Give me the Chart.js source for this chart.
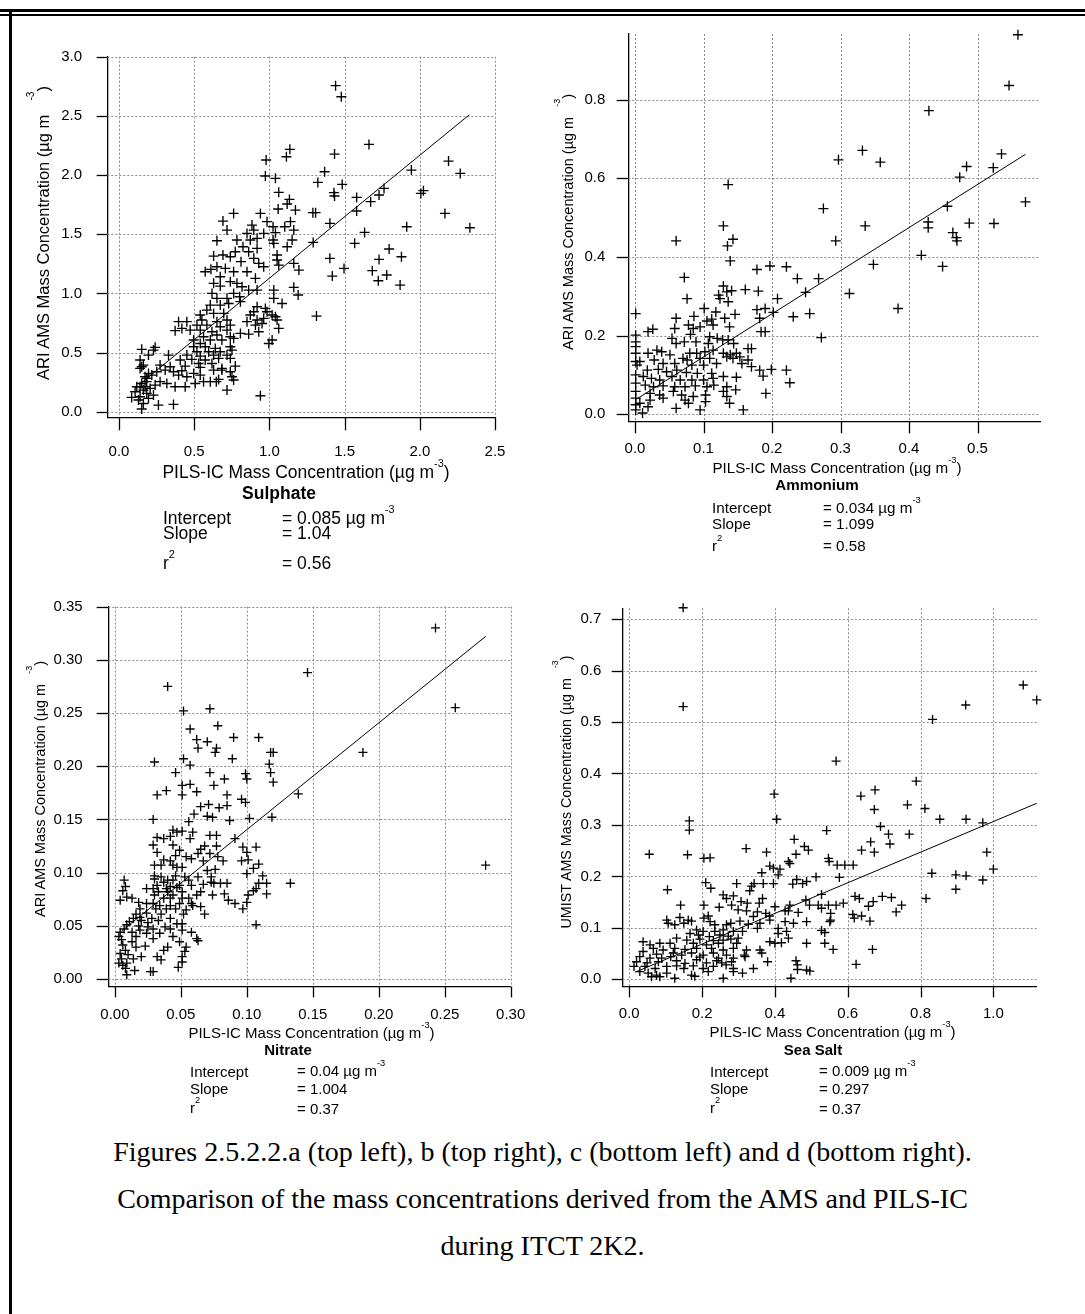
<!DOCTYPE html>
<html>
<head>
<meta charset="utf-8">
<title>AMS vs PILS-IC mass concentrations, ITCT 2K2</title>
<script src="https://cdn.jsdelivr.net/npm/chart.js@4.4.1/dist/chart.umd.min.js"></script>
<style>
  html, body { margin: 0; padding: 0; background: #fff; }
  #page { position: relative; width: 1085px; height: 1314px; overflow: hidden; background: #fff;
          font-family: "Liberation Sans", Arial, sans-serif; color: #000; }
  #page canvas { position: absolute; }
  .t { position: absolute; white-space: nowrap; line-height: 1; z-index: 2; }
  .c { transform: translate(-50%, -50%); }
  .l { transform: translateY(-50%); }
  .yt { transform: translate(-50%, -50%) rotate(-90deg); }
  .b { font-weight: bold; }
  .sup { font-size: 0.62em; position: relative; top: -1.05em; }
  .yt .sup { top: -1.5em; }
  .gap { display: inline-block; }
  .rule { position: absolute; background: #000; }
  .cap { position: absolute; left: 0; width: 1085px; text-align: center; line-height: 1;
         font-family: "Liberation Serif", "Times New Roman", serif; font-size: 28px; transform: translateY(-50%); }
</style>
</head>
<body>
<div id="page">
  <div class="rule" style="left:0;top:9px;width:1085px;height:3px"></div>
  <div class="rule" style="left:0;top:14px;width:1085px;height:2px"></div>
  <div class="rule" style="left:9px;top:12px;width:3px;height:1302px"></div>
  <div class="cap" style="top:1152px">Figures 2.5.2.2.a (top left), b (top right), c (bottom left) and d (bottom right).</div>
  <div class="cap" style="top:1199px">Comparison of the mass concentrations derived from the AMS and PILS-IC</div>
  <div class="cap" style="top:1246px">during ITCT 2K2.</div>
</div>

<script>
// PILS-IC (x) vs AMS (y), ug m-3
const sulphatePts = [
  [1.44,2.755],[1.478,2.662],[1.662,2.259],[1.433,2.177],[1.136,2.217],[1.113,2.155],[0.978,2.127],[0.973,1.992],[1.04,1.972],
  [1.367,2.028],[1.322,1.938],[1.484,1.921],[1.429,1.851],[1.433,1.823],[1.58,1.811],[1.673,1.775],[1.729,1.831],[1.762,1.887],
  [1.944,2.042],[2.191,2.118],[2.269,2.014],[2.007,1.845],[2.024,1.868],[2.167,1.676],[2.333,1.555],[1.913,1.563],[1.58,1.696],
  [1.633,1.515],[1.567,1.423],[1.402,1.592],[1.289,1.682],[1.307,1.682],[1.291,1.431],[1.402,1.296],[1.796,1.375],[1.729,1.287],
  [1.878,1.31],[1.684,1.192],[1.496,1.211],[1.418,1.146],[1.78,1.155],[1.724,1.107],[1.869,1.07],[1.313,0.808],[0.94,0.135],
  [1.062,1.854],[1.133,1.794],[1.118,1.755],[1.058,1.713],[1.173,1.704],[0.94,1.676],[0.762,1.676],[0.691,1.611],[0.718,1.535],
  [0.651,1.445],[0.784,1.451],[0.884,1.577],[0.896,1.535],[0.851,1.507],[0.984,1.606],[1.024,1.563],[0.962,1.507],[1.04,1.513],
  [1.102,1.563],[1.162,1.535],[1.14,1.606],[0.918,1.465],[1.024,1.451],[0.873,1.451],[0.824,1.394],[0.773,1.352],[0.862,1.352],
  [0.918,1.38],[1.051,1.324],[1.118,1.394],[1.151,1.451],[1.029,1.423],[0.691,1.324],[0.629,1.315],[0.74,1.31],[0.811,1.268],
  [0.896,1.296],[0.929,1.254],[0.962,1.225],[1.062,1.239],[1.051,1.282],[1.162,1.254],[1.196,1.197],[0.573,1.183],[0.611,1.203],
  [0.651,1.225],[0.707,1.211],[0.673,1.141],[0.762,1.183],[0.851,1.183],[0.907,1.127],[0.74,1.099],[0.784,1.085],[0.629,1.085],
  [0.673,1.062],[0.818,1.056],[0.862,1.028],[0.918,1.028],[0.618,1.0],[0.762,1.0],[0.651,0.958],[0.718,0.958],[0.802,0.972],
  [1.029,1.028],[1.162,1.051],[1.191,0.986],[1.029,0.958],[1.084,0.915],[0.607,0.901],[0.673,0.901],[0.729,0.915],[0.807,0.93],
  [0.918,0.887],[0.973,0.873],[0.584,0.859],[0.629,0.831],[0.696,0.831],[0.896,0.845],[0.984,0.845],[1.018,0.817],[0.54,0.817],
  [0.873,0.817],[0.918,0.775],[0.962,0.789],[1.04,0.803],[0.551,0.775],[0.651,0.761],[0.718,0.775],[0.451,0.761],[0.396,0.761],
  [0.851,0.761],[0.951,0.746],[1.051,0.775],[0.518,0.732],[0.584,0.732],[0.673,0.718],[0.74,0.732],[0.907,0.732],[0.418,0.704],
  [0.473,0.69],[0.373,0.685],[0.54,0.69],[0.618,0.676],[0.718,0.69],[0.807,0.662],[0.862,0.656],[0.929,0.676],[1.062,0.704],
  [0.562,0.634],[0.651,0.648],[0.74,0.634],[0.496,0.606],[0.54,0.577],[0.607,0.606],[0.684,0.606],[0.762,0.62],[1.018,0.606],
  [0.996,0.577],[0.496,0.549],[0.573,0.549],[0.64,0.535],[0.74,0.549],[0.518,0.507],[0.596,0.507],[0.673,0.507],[0.751,0.521],
  [0.451,0.479],[0.54,0.47],[0.629,0.479],[0.718,0.479],[0.484,0.442],[0.573,0.437],[0.662,0.451],[0.74,0.451],[0.407,0.437],
  [0.529,0.408],[0.618,0.408],[0.773,0.386],[0.684,0.366],[0.54,0.375],[0.44,0.386],[0.34,0.38],[0.273,0.394],[0.329,0.479],
  [0.24,0.544],[0.229,0.521],[0.151,0.527],[0.196,0.479],[0.14,0.437],[0.151,0.38],[0.162,0.394],[0.14,0.366],[0.196,0.324],
  [0.173,0.296],[0.251,0.338],[0.307,0.352],[0.362,0.338],[0.418,0.346],[0.396,0.31],[0.451,0.296],[0.496,0.324],[0.54,0.31],
  [0.629,0.352],[0.684,0.352],[0.74,0.338],[0.751,0.296],[0.762,0.268],[0.662,0.273],[0.562,0.254],[0.507,0.239],[0.607,0.254],
  [0.44,0.211],[0.373,0.211],[0.318,0.239],[0.273,0.254],[0.24,0.225],[0.184,0.254],[0.151,0.239],[0.118,0.211],[0.107,0.169],
  [0.162,0.183],[0.207,0.197],[0.184,0.155],[0.229,0.141],[0.14,0.127],[0.084,0.121],[0.129,0.099],[0.262,0.056],[0.362,0.062],
  [0.151,0.023],[0.718,0.183],[0.647,0.254],[0.218,0.31],[0.184,0.282],[0.14,0.211],[0.173,0.211],[0.196,0.113],[0.162,0.07]
];
const ammoniumPts = [
  [0.559,0.965],[0.546,0.836],[0.429,0.772],[0.332,0.671],[0.297,0.647],[0.358,0.641],[0.535,0.662],[0.523,0.627],[0.484,0.63],
  [0.474,0.603],[0.136,0.584],[0.275,0.523],[0.456,0.529],[0.57,0.54],[0.428,0.489],[0.428,0.474],[0.488,0.486],[0.524,0.485],
  [0.336,0.479],[0.464,0.462],[0.469,0.449],[0.47,0.441],[0.129,0.479],[0.06,0.441],[0.143,0.445],[0.135,0.428],[0.293,0.441],
  [0.139,0.39],[0.418,0.404],[0.449,0.376],[0.348,0.381],[0.178,0.368],[0.197,0.377],[0.221,0.375],[0.072,0.348],[0.237,0.345],
  [0.268,0.345],[0.076,0.294],[0.129,0.326],[0.134,0.311],[0.141,0.314],[0.161,0.317],[0.18,0.313],[0.249,0.31],[0.313,0.307],
  [0.208,0.294],[0.122,0.303],[0.124,0.294],[0.136,0.286],[0.384,0.269],[0.001,0.256],[0.101,0.269],[0.118,0.26],[0.146,0.254],
  [0.178,0.266],[0.19,0.269],[0.202,0.259],[0.255,0.256],[0.231,0.248],[0.06,0.244],[0.086,0.249],[0.105,0.237],[0.112,0.242],
  [0.131,0.244],[0.182,0.244],[0.138,0.222],[0.019,0.21],[0.026,0.216],[0.058,0.218],[0.078,0.227],[0.085,0.218],[0.095,0.222],
  [0.114,0.227],[0.184,0.21],[0.19,0.21],[0.272,0.195],[0.001,0.201],[0.001,0.184],[0.001,0.172],[0.001,0.155],[0.001,0.134],
  [0.003,0.125],[0.001,0.1],[0.001,0.079],[0.001,0.058],[0.001,0.041],[0.001,0.024],[0.001,0.011],[0.011,0.003],[0.007,0.028],
  [0.054,0.193],[0.06,0.18],[0.072,0.184],[0.081,0.203],[0.089,0.184],[0.109,0.197],[0.12,0.193],[0.128,0.189],[0.136,0.189],
  [0.144,0.18],[0.107,0.18],[0.165,0.167],[0.17,0.167],[0.032,0.163],[0.039,0.159],[0.051,0.151],[0.019,0.155],[0.08,0.155],
  [0.09,0.155],[0.102,0.159],[0.114,0.163],[0.129,0.155],[0.139,0.151],[0.148,0.155],[0.07,0.142],[0.076,0.138],[0.095,0.142],
  [0.109,0.142],[0.134,0.146],[0.143,0.142],[0.153,0.146],[0.165,0.138],[0.007,0.134],[0.028,0.138],[0.041,0.129],[0.058,0.129],
  [0.083,0.125],[0.1,0.125],[0.119,0.129],[0.156,0.129],[0.17,0.121],[0.182,0.112],[0.199,0.114],[0.221,0.112],[0.226,0.08],
  [0.187,0.097],[0.148,0.094],[0.129,0.096],[0.112,0.104],[0.091,0.104],[0.075,0.106],[0.061,0.112],[0.046,0.108],[0.034,0.114],
  [0.018,0.112],[0.012,0.096],[0.024,0.091],[0.036,0.087],[0.054,0.096],[0.066,0.087],[0.083,0.087],[0.1,0.087],[0.114,0.091],
  [0.015,0.074],[0.027,0.07],[0.041,0.072],[0.058,0.07],[0.073,0.07],[0.088,0.072],[0.105,0.07],[0.115,0.074],[0.134,0.07],
  [0.022,0.053],[0.036,0.049],[0.056,0.058],[0.068,0.049],[0.085,0.045],[0.103,0.049],[0.134,0.045],[0.147,0.062],[0.191,0.053],
  [0.022,0.036],[0.041,0.041],[0.073,0.036],[0.103,0.032],[0.138,0.028],[0.019,0.019],[0.06,0.015],[0.095,0.011],[0.158,0.011],
  [0.129,0.058],[0.078,0.028]
];
const nitratePts = [
  [0.243,0.33],[0.258,0.255],[0.146,0.288],[0.188,0.213],[0.281,0.107],[0.04,0.275],[0.072,0.254],[0.052,0.252],[0.078,0.238],
  [0.057,0.235],[0.09,0.227],[0.109,0.227],[0.062,0.225],[0.07,0.223],[0.063,0.217],[0.077,0.217],[0.076,0.213],[0.118,0.213],
  [0.12,0.213],[0.03,0.204],[0.052,0.207],[0.089,0.207],[0.057,0.201],[0.117,0.202],[0.046,0.194],[0.072,0.194],[0.099,0.193],
  [0.118,0.194],[0.1,0.188],[0.083,0.188],[0.12,0.185],[0.051,0.182],[0.057,0.183],[0.075,0.182],[0.039,0.177],[0.032,0.173],
  [0.051,0.173],[0.062,0.176],[0.085,0.173],[0.139,0.174],[0.096,0.169],[0.099,0.166],[0.065,0.162],[0.071,0.164],[0.085,0.163],
  [0.079,0.161],[0.06,0.155],[0.07,0.153],[0.074,0.152],[0.087,0.149],[0.102,0.151],[0.119,0.152],[0.029,0.15],[0.056,0.148],
  [0.044,0.14],[0.051,0.139],[0.059,0.138],[0.072,0.135],[0.077,0.135],[0.032,0.133],[0.037,0.132],[0.042,0.134],[0.047,0.138],
  [0.057,0.132],[0.091,0.132],[0.029,0.126],[0.044,0.126],[0.065,0.122],[0.068,0.125],[0.077,0.125],[0.097,0.124],[0.107,0.124],
  [0.032,0.119],[0.049,0.121],[0.046,0.116],[0.054,0.115],[0.063,0.118],[0.072,0.118],[0.078,0.115],[0.1,0.119],[0.037,0.112],
  [0.042,0.111],[0.058,0.113],[0.067,0.111],[0.082,0.111],[0.096,0.111],[0.101,0.112],[0.03,0.107],[0.035,0.107],[0.044,0.107],
  [0.047,0.105],[0.051,0.105],[0.109,0.108],[0.07,0.102],[0.076,0.103],[0.1,0.099],[0.105,0.104],[0.112,0.097],[0.03,0.097],
  [0.035,0.096],[0.046,0.097],[0.053,0.096],[0.063,0.096],[0.073,0.096],[0.007,0.093],[0.03,0.094],[0.04,0.093],[0.044,0.093],
  [0.056,0.093],[0.073,0.091],[0.08,0.09],[0.085,0.09],[0.115,0.09],[0.133,0.09],[0.109,0.09],[0.037,0.091],[0.008,0.087],
  [0.032,0.088],[0.042,0.087],[0.049,0.088],[0.058,0.088],[0.067,0.089],[0.075,0.09],[0.024,0.085],[0.029,0.085],[0.039,0.085],
  [0.047,0.086],[0.107,0.085],[0.105,0.083],[0.006,0.083],[0.033,0.082],[0.04,0.082],[0.051,0.082],[0.065,0.082],[0.083,0.08],
  [0.03,0.079],[0.044,0.079],[0.074,0.079],[0.062,0.079],[0.115,0.08],[0.101,0.079],[0.009,0.077],[0.037,0.076],[0.042,0.076],
  [0.051,0.076],[0.056,0.076],[0.086,0.074],[0.004,0.074],[0.013,0.076],[0.018,0.072],[0.024,0.071],[0.029,0.071],[0.034,0.069],
  [0.042,0.069],[0.049,0.071],[0.058,0.071],[0.1,0.072],[0.091,0.071],[0.019,0.066],[0.031,0.066],[0.039,0.066],[0.046,0.066],
  [0.054,0.065],[0.065,0.068],[0.059,0.069],[0.097,0.066],[0.016,0.061],[0.024,0.062],[0.035,0.061],[0.052,0.061],[0.068,0.061],
  [0.014,0.057],[0.019,0.058],[0.028,0.057],[0.042,0.057],[0.011,0.054],[0.02,0.055],[0.025,0.053],[0.033,0.055],[0.047,0.052],
  [0.107,0.051],[0.009,0.051],[0.018,0.05],[0.025,0.049],[0.038,0.049],[0.051,0.052],[0.007,0.047],[0.019,0.046],[0.029,0.047],
  [0.042,0.047],[0.051,0.046],[0.004,0.044],[0.013,0.044],[0.024,0.043],[0.034,0.043],[0.058,0.044],[0.003,0.04],[0.016,0.04],
  [0.029,0.038],[0.044,0.04],[0.062,0.038],[0.005,0.037],[0.013,0.035],[0.049,0.035],[0.063,0.036],[0.006,0.032],[0.016,0.03],
  [0.023,0.031],[0.04,0.03],[0.054,0.03],[0.008,0.027],[0.037,0.027],[0.053,0.026],[0.004,0.024],[0.01,0.023],[0.02,0.021],
  [0.032,0.021],[0.051,0.021],[0.005,0.019],[0.014,0.019],[0.035,0.018],[0.003,0.015],[0.009,0.015],[0.051,0.016],[0.006,0.013],
  [0.048,0.011],[0.008,0.01],[0.015,0.008],[0.027,0.007],[0.029,0.007],[0.009,0.004]
];
const seaSaltPts = [
  [0.148,0.722],[0.148,0.53],[1.082,0.572],[1.119,0.543],[0.924,0.533],[0.833,0.505],[0.568,0.424],[0.788,0.385],[0.675,0.368],
  [0.636,0.356],[0.398,0.36],[0.764,0.339],[0.812,0.332],[0.673,0.33],[0.405,0.311],[0.853,0.311],[0.925,0.311],[0.971,0.304],
  [0.165,0.308],[0.165,0.29],[0.69,0.297],[0.542,0.289],[0.712,0.282],[0.769,0.282],[0.453,0.272],[0.663,0.267],[0.716,0.263],
  [0.321,0.254],[0.481,0.258],[0.492,0.251],[0.638,0.251],[0.673,0.247],[0.982,0.247],[0.377,0.247],[0.458,0.243],[0.055,0.243],
  [0.16,0.242],[0.205,0.235],[0.222,0.236],[0.547,0.235],[0.549,0.229],[0.437,0.229],[0.441,0.225],[0.571,0.222],[0.592,0.222],
  [0.615,0.222],[0.386,0.22],[0.396,0.216],[0.414,0.214],[1.0,0.214],[0.409,0.203],[0.831,0.206],[0.897,0.203],[0.925,0.201],
  [0.577,0.198],[0.513,0.199],[0.971,0.193],[0.364,0.207],[0.46,0.194],[0.476,0.186],[0.487,0.19],[0.449,0.185],[0.21,0.188],
  [0.295,0.186],[0.343,0.186],[0.368,0.186],[0.396,0.186],[0.336,0.181],[0.224,0.177],[0.897,0.175],[0.105,0.174],[0.331,0.172],
  [0.815,0.157],[0.528,0.165],[0.695,0.161],[0.72,0.159],[0.62,0.161],[0.632,0.157],[0.258,0.164],[0.267,0.157],[0.286,0.162],
  [0.307,0.151],[0.366,0.157],[0.485,0.154],[0.588,0.148],[0.748,0.144],[0.141,0.144],[0.205,0.144],[0.247,0.14],[0.281,0.144],
  [0.324,0.148],[0.357,0.148],[0.4,0.141],[0.441,0.144],[0.495,0.144],[0.519,0.144],[0.547,0.144],[0.568,0.144],[0.657,0.142],
  [0.67,0.151],[0.733,0.131],[0.428,0.133],[0.299,0.135],[0.322,0.133],[0.352,0.131],[0.375,0.128],[0.528,0.138],[0.553,0.128],
  [0.464,0.13],[0.437,0.133],[0.341,0.122],[0.385,0.123],[0.139,0.12],[0.205,0.119],[0.217,0.123],[0.614,0.126],[0.638,0.123],
  [0.618,0.119],[0.661,0.113],[0.553,0.115],[0.551,0.112],[0.487,0.112],[0.451,0.109],[0.428,0.112],[0.103,0.115],[0.162,0.115],
  [0.171,0.113],[0.222,0.112],[0.304,0.113],[0.327,0.107],[0.359,0.109],[0.386,0.115],[0.107,0.109],[0.125,0.106],[0.15,0.109],
  [0.235,0.106],[0.267,0.106],[0.279,0.109],[0.352,0.099],[0.409,0.099],[0.528,0.095],[0.537,0.091],[0.185,0.096],[0.203,0.093],
  [0.235,0.093],[0.258,0.096],[0.286,0.093],[0.311,0.093],[0.167,0.089],[0.19,0.086],[0.22,0.083],[0.249,0.086],[0.272,0.084],
  [0.409,0.089],[0.432,0.093],[0.299,0.08],[0.13,0.08],[0.158,0.076],[0.194,0.078],[0.231,0.075],[0.258,0.076],[0.279,0.078],
  [0.386,0.073],[0.4,0.07],[0.418,0.071],[0.437,0.08],[0.487,0.07],[0.537,0.07],[0.038,0.073],[0.057,0.067],[0.084,0.07],
  [0.112,0.07],[0.176,0.07],[0.212,0.067],[0.245,0.07],[0.295,0.07],[0.56,0.058],[0.668,0.058],[0.066,0.06],[0.093,0.057],
  [0.125,0.06],[0.153,0.058],[0.185,0.06],[0.226,0.06],[0.258,0.057],[0.286,0.06],[0.322,0.057],[0.359,0.057],[0.038,0.054],
  [0.075,0.049],[0.121,0.051],[0.144,0.047],[0.171,0.051],[0.203,0.047],[0.231,0.051],[0.267,0.047],[0.316,0.047],[0.364,0.051],
  [0.029,0.044],[0.057,0.041],[0.089,0.041],[0.114,0.044],[0.194,0.043],[0.245,0.041],[0.286,0.041],[0.318,0.044],[0.02,0.034],
  [0.049,0.032],[0.08,0.034],[0.13,0.036],[0.153,0.031],[0.185,0.038],[0.212,0.032],[0.24,0.036],[0.254,0.032],[0.281,0.034],
  [0.38,0.034],[0.458,0.036],[0.623,0.029],[0.013,0.025],[0.043,0.025],[0.071,0.021],[0.103,0.025],[0.13,0.026],[0.15,0.021],
  [0.176,0.026],[0.203,0.021],[0.231,0.025],[0.266,0.028],[0.286,0.021],[0.462,0.028],[0.462,0.019],[0.487,0.018],[0.496,0.016],
  [0.029,0.015],[0.052,0.012],[0.075,0.008],[0.103,0.012],[0.125,0.002],[0.171,0.008],[0.18,0.006],[0.217,0.015],[0.258,0.002],
  [0.286,0.015],[0.311,0.012],[0.341,0.021],[0.444,0.002],[0.061,0.005],[0.084,0.005]
];

// end points of the fitted lines
const sulphateFitX = [0.135, 2.33],  sulphateFitY = [0.23, 2.51];
const ammoniumFitX = [0.0, 0.57],    ammoniumFitY = [0.036, 0.661];
const nitrateFitX  = [0.005, 0.281], nitrateFitY  = [0.045, 0.322];
const seaSaltFitX  = [0.017, 1.119], seaSaltFitY  = [0.014, 0.342];

// intercept, slope, r^2 as printed under each plot
const sulphateStats = ['0.085', '1.04', '0.56'];
const ammoniumStats = ['0.034', '1.099', '0.58'];
const nitrateStats  = ['0.04', '1.004', '0.37'];
const seaSaltStats  = ['0.009', '0.297', '0.37'];

const page = document.getElementById('page');
const UNIT = 'µg m<span class="sup">-3</span>';

Chart.defaults.font.family = '"Liberation Sans", Arial, sans-serif';
Chart.defaults.color = '#000';

// dotted grid + outside tick marks, like the Igor originals
const igorGrid = {
  id: 'igorGrid',
  beforeDatasetsDraw(chart, args, opts) {
    const { ctx, chartArea: a, scales: { x, y } } = chart;
    ctx.save();
    ctx.lineWidth = 1;
    ctx.strokeStyle = '#8a8a8a';
    ctx.setLineDash([2, 2]);
    x.ticks.forEach(t => {
      const px = Math.round(x.getPixelForValue(t.value)) + 0.5;
      ctx.beginPath(); ctx.moveTo(px, a.top); ctx.lineTo(px, a.bottom); ctx.stroke();
    });
    y.ticks.forEach(t => {
      const py = Math.round(y.getPixelForValue(t.value)) + 0.5;
      ctx.beginPath(); ctx.moveTo(a.left, py); ctx.lineTo(a.right, py); ctx.stroke();
    });
    ctx.setLineDash([]);
    ctx.strokeStyle = '#000';
    ctx.lineWidth = 1.3;
    x.ticks.forEach(t => {
      const px = Math.round(x.getPixelForValue(t.value)) + 0.5;
      ctx.beginPath(); ctx.moveTo(px, a.bottom); ctx.lineTo(px, a.bottom + opts.xTick); ctx.stroke();
    });
    y.ticks.forEach(t => {
      const py = Math.round(y.getPixelForValue(t.value)) + 0.5;
      ctx.beginPath(); ctx.moveTo(a.left - opts.yTick, py); ctx.lineTo(a.left, py); ctx.stroke();
    });
    ctx.restore();
  }
};

function addText(html, x, y, size, cls) {
  const d = document.createElement('div');
  d.className = 't ' + cls;
  d.style.left = x + 'px';
  d.style.top = y + 'px';
  d.style.fontSize = size + 'px';
  d.innerHTML = html;
  page.appendChild(d);
}

function panel(p) {
  const cv = document.createElement('canvas');
  cv.width = p.box.w;
  cv.height = p.box.h;
  cv.style.left = p.box.x + 'px';
  cv.style.top = p.box.y + 'px';
  page.appendChild(cv);

  const a = p.area;
  new Chart(cv, {
    type: 'scatter',
    data: {
      datasets: [
        {
          data: p.pts.map(q => ({ x: q[0], y: q[1] })),
          pointStyle: 'cross',
          pointRadius: p.mark,
          pointHoverRadius: p.mark,
          pointBorderColor: '#000',
          pointBorderWidth: 1.35,
          clip: false
        },
        {
          type: 'line',
          data: p.fitX.map((x, i) => ({ x: x, y: p.fitY[i] })),
          showLine: true,
          pointRadius: 0,
          borderColor: '#000',
          borderWidth: 1,
          fill: false,
          clip: false
        }
      ]
    },
    options: {
      responsive: false,
      animation: false,
      devicePixelRatio: 1,
      events: [],
      layout: { padding: { left: 0, bottom: 0, top: a.top - p.box.y, right: p.box.x + p.box.w - a.right } },
      plugins: {
        legend: { display: false },
        tooltip: { enabled: false },
        igorGrid: { xTick: p.x.tick, yTick: p.y.tick }
      },
      scales: {
        x: {
          type: 'linear', position: 'bottom', min: p.x.min, max: p.x.max,
          grid: { display: false },
          border: { display: true, color: '#000', width: 1.3 },
          ticks: {
            stepSize: p.x.step, includeBounds: false, maxRotation: 0, autoSkip: false,
            padding: p.x.pad, font: { size: 15, lineHeight: 1.2 }, color: '#000',
            callback: v => v.toFixed(p.x.dec)
          },
          afterFit: s => { s.height = p.box.y + p.box.h - a.bottom; }
        },
        y: {
          type: 'linear', position: 'left', min: p.y.min, max: p.y.max,
          grid: { display: false },
          border: { display: true, color: '#000', width: 1.3 },
          ticks: {
            stepSize: p.y.step, includeBounds: false, autoSkip: false,
            padding: p.y.pad, font: { size: 15, lineHeight: 1.2 }, color: '#000',
            callback: v => v.toFixed(p.y.dec)
          },
          afterFit: s => { s.width = a.left - p.box.x; }
        }
      }
    },
    plugins: [igorGrid]
  });

  // axis titles, species name and fit statistics
  const t = p.text;
  addText('PILS-IC Mass Concentration (' + UNIT + ')', t.xt[0], t.xt[1], t.size, 'c');
  addText(t.yLabel + ' (µg m<span class="gap" style="width:' + t.gap + 'px"></span><span class="sup">-3</span>)',
          t.yt[0], t.yt[1], t.ySize, 'yt');
  addText(t.name, t.nm[0], t.nm[1], t.size, 'c b');
  addText('Intercept', t.c1, t.rows[0], t.size, 'l');
  addText('Slope', t.c1, t.rows[1], t.size, 'l');
  addText('r<span class="sup">2</span>', t.c1, t.rows[2], t.size, 'l');
  addText('= ' + p.stats[0] + ' ' + UNIT, t.c2, t.rows[0], t.size, 'l');
  addText('= ' + p.stats[1], t.c2, t.rows[1], t.size, 'l');
  addText('= ' + p.stats[2], t.c2, t.rows[2], t.size, 'l');
}

panel({
  pts: sulphatePts, fitX: sulphateFitX, fitY: sulphateFitY, stats: sulphateStats, mark: 5,
  box: { x: 0, y: 20, w: 540, h: 450 },
  area: { left: 107.3, right: 495, top: 56.7, bottom: 417.3 },
  x: { min: -0.078, max: 2.5, step: 0.5, dec: 1, pad: 17.7, tick: 13 },
  y: { min: -0.047, max: 3.0, step: 0.5, dec: 1, pad: 17.3, tick: 10.6 },
  text: { size: 17.5, ySize: 16.5, gap: 14, yLabel: 'ARI AMS Mass Concentration', name: 'Sulphate',
          xt: [306, 473], yt: [43, 233], nm: [279, 494], c1: 163, c2: 282, rows: [519, 534.3, 564] }
});

panel({
  pts: ammoniumPts, fitX: ammoniumFitX, fitY: ammoniumFitY, stats: ammoniumStats, mark: 5,
  box: { x: 540, y: 10, w: 545, h: 450 },
  area: { left: 628.3, right: 1040, top: 33.3, bottom: 421.7 },
  x: { min: -0.0098, max: 0.5912, step: 0.1, dec: 1, pad: 10.3, tick: 11.6 },
  y: { min: -0.019, max: 0.967, step: 0.2, dec: 1, pad: 15, tick: 11.6 },
  text: { size: 15.2, ySize: 14.5, gap: 10, yLabel: 'ARI AMS Mass Concentration', name: 'Ammonium',
          xt: [837, 468], yt: [568, 222], nm: [817, 485], c1: 712, c2: 823, rows: [508.3, 524, 546] }
});

panel({
  pts: nitratePts, fitX: nitrateFitX, fitY: nitrateFitY, stats: nitrateStats, mark: 4.5,
  box: { x: 0, y: 580, w: 540, h: 450 },
  area: { left: 108.3, right: 510.7, top: 604, bottom: 986.7 },
  x: { min: -0.005, max: 0.30, step: 0.05, dec: 2, pad: 10.9, tick: 10.7 },
  y: { min: -0.0072, max: 0.35, step: 0.05, dec: 2, pad: 17.6, tick: 11.6 },
  text: { size: 15, ySize: 14.5, gap: 10, yLabel: 'ARI AMS Mass Concentration', name: 'Nitrate',
          xt: [311.5, 1032.7], yt: [40, 789], nm: [288, 1049], c1: 190, c2: 297, rows: [1071, 1087.7, 1108] }
});

panel({
  pts: seaSaltPts, fitX: seaSaltFitX, fitY: seaSaltFitY, stats: seaSaltStats, mark: 4.5,
  box: { x: 540, y: 580, w: 545, h: 450 },
  area: { left: 622.7, right: 1036.7, top: 608.3, bottom: 986.7 },
  x: { min: -0.018, max: 1.119, step: 0.2, dec: 1, pad: 9.7, tick: 10.7 },
  y: { min: -0.0144, max: 0.721, step: 0.1, dec: 1, pad: 13.4, tick: 11 },
  text: { size: 15, ySize: 14.3, gap: 10, yLabel: 'UMIST AMS Mass Concentration', name: 'Sea Salt',
          xt: [832.5, 1031.7], yt: [566, 792], nm: [813, 1049], c1: 710, c2: 819, rows: [1071, 1087.7, 1108] }
});
</script>
</body>
</html>
